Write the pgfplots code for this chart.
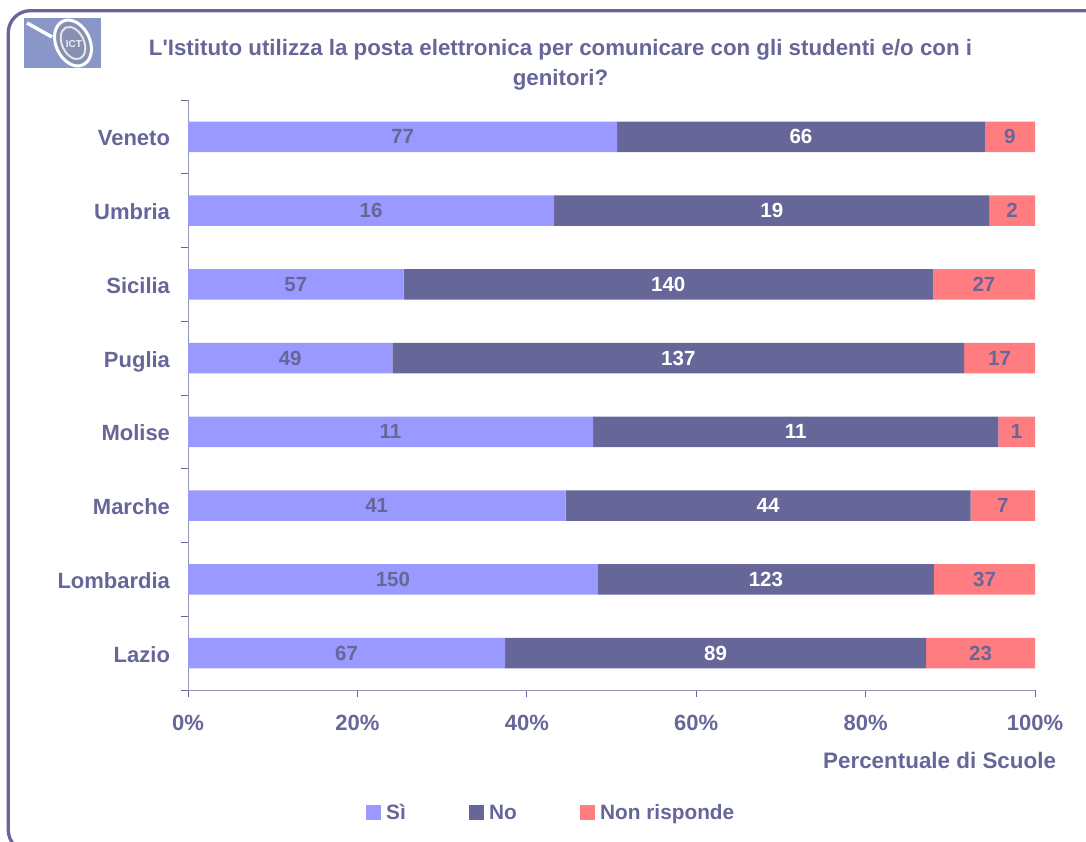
\documentclass[border=0pt]{standalone}
\usepackage{pgfplots}
\usepackage{pgfplotstable}
\pgfplotsset{compat=1.18}
\usepackage{fontspec}
\setmainfont{Liberation Sans}[Ligatures=TeXOff]
\definecolor{ink}{HTML}{666699}
\definecolor{si}{HTML}{9999FF}
\definecolor{nr}{HTML}{FF7C80}
\definecolor{logo}{HTML}{8A96C8}
\pgfplotstableread{
pos name si no nr
0 Lazio 37.43 49.72 12.85
1 Lombardia 48.39 39.68 11.93
2 Marche 44.57 47.83 7.60
3 Molise 47.83 47.83 4.34
4 Puglia 24.14 67.49 8.37
5 Sicilia 25.45 62.50 12.05
6 Umbria 43.24 51.35 5.41
7 Veneto 50.66 43.42 5.92
}\shares
\pgfplotstableread{
pos ms ls mn ln mr lr
0 18.72 67 62.29 89 93.58 23
1 24.19 150 68.23 123 94.04 37
2 22.28 41 68.48 44 96.20 7
3 23.91 11 71.74 11 97.83 1
4 12.07 49 57.89 137 95.82 17
5 12.73 57 56.70 140 93.97 27
6 21.62 16 68.92 19 97.30 2
7 25.33 77 72.37 66 97.04 9
}\labels
\begin{document}
\begin{tikzpicture}[x=1pt,y=-1pt,font=\fontsize{22}{26}\selectfont\bfseries]
\path[use as bounding box] (0,0) rectangle (1086,841);
\begin{scope}
\clip (0,0) rectangle (1086,841);
\draw[ink,line width=3.3pt,rounded corners=22pt] (8.3,10.7) rectangle (1110,852);
\end{scope}
% logo
\fill[logo] (24,18) rectangle (101,68);
\draw[white,line width=3.5pt] (27,23) -- (52,37);
\fill[logo!70!gray,rotate around={25:(73,43)}] (73,43) ellipse (17pt and 24pt);
\draw[white,line width=3pt,rotate around={25:(73,43)}] (73,43) ellipse (17pt and 24pt);
\draw[white!80!gray,line width=2pt,rotate around={25:(73,43)}] (73,43) ellipse (11pt and 17pt);
\node[white!85!logo,font=\fontsize{10}{10}\selectfont\bfseries] at (74,44) {ICT};
% title
\node[ink,align=center,font=\fontsize{22.3}{30}\selectfont\bfseries] at (560.5,64.5) {L'Istituto utilizza la posta elettronica per comunicare con gli studenti e/o con i\\genitori?};
\begin{axis}[
  at={(188pt,-690pt)}, anchor=south west,
  scale only axis, width=847pt, height=590pt,
  xbar stacked, bar width=30.5pt,
  xmin=0, xmax=100, ymin=-0.5, ymax=7.5,
  axis x line*=bottom, axis y line*=left,
  axis line style={ink!70,line width=1pt,-},
  xtick={0,20,...,100}, xticklabel={\pgfmathprintnumber{\tick}\%},
  ytick={0,...,7},
  yticklabels={Lazio,Lombardia,Marche,Molise,Puglia,Sicilia,Umbria,Veneto},
  minor ytick={-0.5,0.5,...,7.5},
  major tick length=7pt, minor tick length=7pt,
  tick align=outside,
  y tick style={draw=none},
  minor y tick style={draw=ink,line width=.8pt},
  x tick style={draw=ink,line width=.8pt},
  tick label style={text=ink,font=\fontsize{22}{26}\selectfont\bfseries},
  /pgf/number format/assume math mode=true,
  xticklabel style={yshift=-15pt},
  yticklabel style={xshift=-7.5pt,yshift=-3.5pt,text height=16pt,text depth=5pt},
]
\addplot[draw=none,fill=si] table[x=si,y=pos]{\shares};
\addplot[draw=none,fill=ink] table[x=no,y=pos]{\shares};
\addplot[draw=none,fill=nr] table[x=nr,y=pos]{\shares};
\end{axis}
\begin{axis}[
  at={(188pt,-690pt)}, anchor=south west,
  scale only axis, width=847pt, height=590pt,
  xmin=0, xmax=100, ymin=-0.5, ymax=7.5,
  axis lines=none, clip=false,
  nodes near coords, point meta=explicit symbolic,
  nodes near coords style={anchor=center,font=\fontsize{20.5}{22}\selectfont\bfseries},
]
\addplot[draw=none,mark=none,nodes near coords style={text=ink}] table[x=ms,y=pos,meta=ls]{\labels};
\addplot[draw=none,mark=none,nodes near coords style={text=white}] table[x=mn,y=pos,meta=ln]{\labels};
\addplot[draw=none,mark=none,nodes near coords style={text=ink}] table[x=mr,y=pos,meta=lr]{\labels};
\end{axis}
\node[ink,anchor=east,font=\fontsize{22.4}{26}\selectfont\bfseries] at (1059.5,760) {Percentuale di Scuole};
% legend
\begin{scope}[font=\fontsize{20.8}{24}\selectfont\bfseries]
\fill[si] (366,805) rectangle (381,820);
\node[ink,anchor=base west,inner sep=0pt] at (386,819.5) {Sì};
\fill[ink] (469,805) rectangle (484,820);
\node[ink,anchor=base west,inner sep=0pt] at (489,819.5) {No};
\fill[nr] (580,805) rectangle (595,820);
\node[ink,anchor=base west,inner sep=0pt] at (600,819.5) {Non risponde};
\end{scope}
\end{tikzpicture}
\end{document}
